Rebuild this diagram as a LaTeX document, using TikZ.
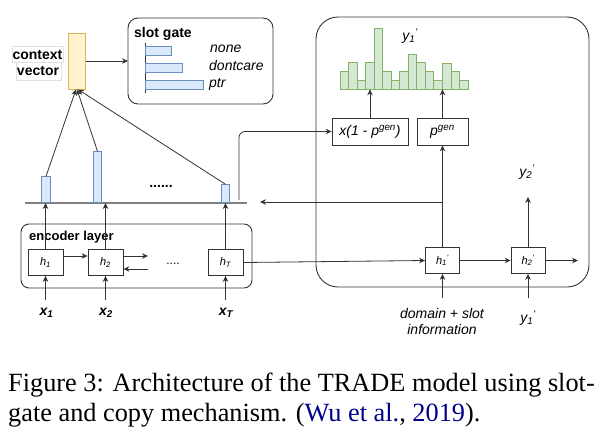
\documentclass[tikz,border=0pt]{standalone}
\usepackage{fontspec}
\setmainfont{Liberation Serif}
\newfontfamily\lsans{Liberation Sans}
\usetikzlibrary{arrows.meta,calc}
\definecolor{barblue}{HTML}{DAE8FC}
\definecolor{bluedraw}{HTML}{6C8EBF}
\definecolor{grfill}{HTML}{D5E8D4}
\definecolor{grdraw}{HTML}{82B366}
\definecolor{yfill}{HTML}{FFF2CC}
\definecolor{ydraw}{HTML}{D6B656}
\definecolor{citeblue}{RGB}{0,0,139}
\definecolor{ln}{HTML}{333333}
\begin{document}
\begin{tikzpicture}[x=1pt,y=-1pt,
  hboxst/.style={draw=ln, line width=0.8pt, fill=white, inner sep=0pt, minimum width=35pt, minimum height=26pt, font=\lsans\fontsize{11}{13}\selectfont\itshape},
  arr/.style={-{Stealth[length=6pt,width=5.5pt]}, line width=0.8pt, draw=ln},
  frameline/.style={draw=ln, line width=0.9pt},
  bbar/.style={draw=bluedraw, fill=barblue, line width=0.7pt, inner sep=0pt, minimum width=8.5pt, anchor=south},
  hbar/.style={draw=bluedraw, fill=barblue, line width=0.7pt},
  lab/.style={font=\lsans\fontsize{14}{16}\selectfont\itshape, inner sep=0pt},
  xlab/.style={font=\lsans\bfseries\itshape\fontsize{14}{16}\selectfont, inner sep=0pt},
  blab/.style={font=\lsans\bfseries\fontsize{14}{16}\selectfont, inner sep=0pt},
  captxt/.style={font=\fontsize{26.3}{30}\selectfont, inner sep=0pt, anchor=base west}]
\useasboundingbox (0,0) rectangle (610,434);

% ---------- slot gate ----------
\draw[frameline, rounded corners=10pt] (128,18) rectangle (273,104);
\node[blab, anchor=base west] (sgt) at (134,37) {slot gate};
\draw[line width=0.9pt, ln] (145,43) -- (145,93);
\draw[hbar] (145,46) rectangle (171,55);
\draw[hbar] (145,63) rectangle (182,72);
\draw[hbar] (145,80) rectangle (203,89);
\node[lab, anchor=base west] (gnone) at (210,52.5) {none};
\node[lab, anchor=base west] (gdc) at (209,70.5) {dontcare};
\node[lab, anchor=base west] (gptr) at (209,87.5) {ptr};
\coordinate (sgin) at (128,61);

% ---------- context vector ----------
\node[draw=ydraw, fill=yfill, line width=0.8pt, minimum width=17pt, minimum height=56pt, inner sep=0pt] (cv) at (77,61) {};
\draw[draw=black!12, line width=0.6pt] (12,46) rectangle (63,62);
\draw[draw=black!12, line width=0.6pt] (16,62) rectangle (61,80);
\node[blab, anchor=base] (ctx1) at (37.5,59) {context};
\node[blab, anchor=base] (ctx2) at (38,75.5) {vector};
\draw[arr] (cv.east |- sgin) -- (sgin);

% ---------- attention bars ----------
\coordinate (bl) at (25,203);
\coordinate (br) at (247,203);
\draw[line width=1.4pt, draw=black!50] (bl) -- (br);
\node[bbar, minimum height=26pt] (b1) at (46,203) {};
\node[bbar, minimum height=51pt] (b2) at (97.5,203) {};
\node[bbar, minimum height=18pt] (b3) at (225.5,203) {};
\node[font=\lsans\bfseries\fontsize{14}{16}\selectfont, inner sep=0pt] (dots1) at (161,186) {......};
\draw[arr] (b1.north) -- ($(cv.south)+(-1,0)$);
\draw[arr] (b2.north) -- (cv.south);
\draw[arr] (b3.north) -- ($(cv.south)+(1,0)$);

% ---------- encoder ----------
\draw[frameline, rounded corners=8pt] (21,224) rectangle (252,288);
\node[blab, font=\lsans\bfseries\fontsize{13}{15}\selectfont, anchor=base west] (enc) at (29,240) {encoder layer};
\node[hboxst] (h1) at (45.5,262.5) {h\textsubscript{1}};
\node[hboxst] (h2) at (105.5,262.5) {h\textsubscript{2}};
\node[hboxst] (hT) at (225.5,262.5) {h\textsubscript{T}};
\node[font=\lsans\fontsize{12}{14}\selectfont, inner sep=0pt] (dots2) at (173,264) {....};
\coordinate (h2r) at (148,256);
\coordinate (h2l) at (148,269);
\draw[arr] (h1.east |- 0,256) -- (h2.west |- 0,256);
\draw[arr] (h2.east |- h2r) -- (h2r);
\draw[arr] (h2l) -- (h2.east |- h2l);
\draw[arr] (h1.north) -- (h1.north |- bl);
\draw[arr] (h2.north) -- (h2.north |- bl);
\draw[arr] (hT.north) -- (hT.north |- bl);
\node[xlab] (x1) at (46.5,313) {x\textsubscript{1}};
\node[xlab] (x2) at (106,313) {x\textsubscript{2}};
\node[xlab] (xT) at (226,313) {x\textsubscript{T}};
\draw[arr] (h1.south |- 0,300) -- (h1.south);
\draw[arr] (h2.south |- 0,300) -- (h2.south);
\draw[arr] (hT.south |- 0,300) -- (hT.south);

% ---------- decoder ----------
\draw[frameline, rounded corners=22pt] (316,17) rectangle (589,287);
\foreach \t [count=\i from 0] in {71.7,62.7,80,62.7,28.3,71.7,80,71.7,54,62.7,71.7,80,63.3,71.7,80}{
  \draw[draw=grdraw, fill=grfill, line width=0.7pt] ({340+\i*8.53},89.3) rectangle ({340+(\i+1)*8.53},\t);
}
\coordinate (hbase) at (0,89.3);
\node[lab] (y1a) at (410,36) {y\textsubscript{1}\textsuperscript{'}};
\node[hboxst, minimum width=76pt, minimum height=27pt, font=\lsans\fontsize{14}{16}\selectfont\itshape] (xg) at (370,131.5) {x(1 - p\textsuperscript{gen})};
\node[hboxst, minimum width=51pt, minimum height=27pt, font=\lsans\fontsize{14}{16}\selectfont\itshape] (pg) at (442.5,131.5) {p\textsuperscript{gen}};
\draw[arr] (xg.north) -- (xg.north |- hbase);
\draw[arr] (pg.north) -- (pg.north |- hbase);

\node[hboxst, minimum width=34pt] (d1) at (442.5,260.5) {h\textsubscript{1}\textsuperscript{'}};
\node[hboxst, minimum width=34pt] (d2) at (528,260.5) {h\textsubscript{2}\textsuperscript{'}};
\coordinate (dend) at (578,260.5);
\draw[arr] (hT.east) -- (d1.west);
\draw[arr] (d1.east) -- (d2.west);
\draw[arr] (d2.east) -- (dend);
\draw[arr] (d1.north) -- (pg.south);
\coordinate (brk) at (442.5,202);
\coordinate (brend) at (260,202);
\draw[arr] (brk) -- (brend);
\coordinate (cs) at (239,200);
\draw[arr, rounded corners=6pt] (cs) |- (xg.west);
\coordinate (y2c) at (528,197);
\draw[arr] (d2.north) -- (y2c);
\node[lab] (y2a) at (527,172) {y\textsubscript{2}\textsuperscript{'}};
\draw[arr] (d1.south |- 0,298) -- (d1.south);
\draw[arr] (d2.south |- 0,298) -- (d2.south);
\node[lab] (dom1) at (442,313) {domain + slot};
\node[lab] (dom2) at (442,329) {information};
\node[lab] (y1b) at (528,318) {y\textsubscript{1}\textsuperscript{'}};

% ---------- caption ----------
\node[captxt] (cap1) at (8,391) {Figure 3: Architecture of the TRADE model using slot-};
\node[captxt] (cap2) at (8,421) {gate and copy mechanism. (\textcolor{citeblue}{Wu et al.}, \textcolor{citeblue}{2019}).};
\end{tikzpicture}
\end{document}
